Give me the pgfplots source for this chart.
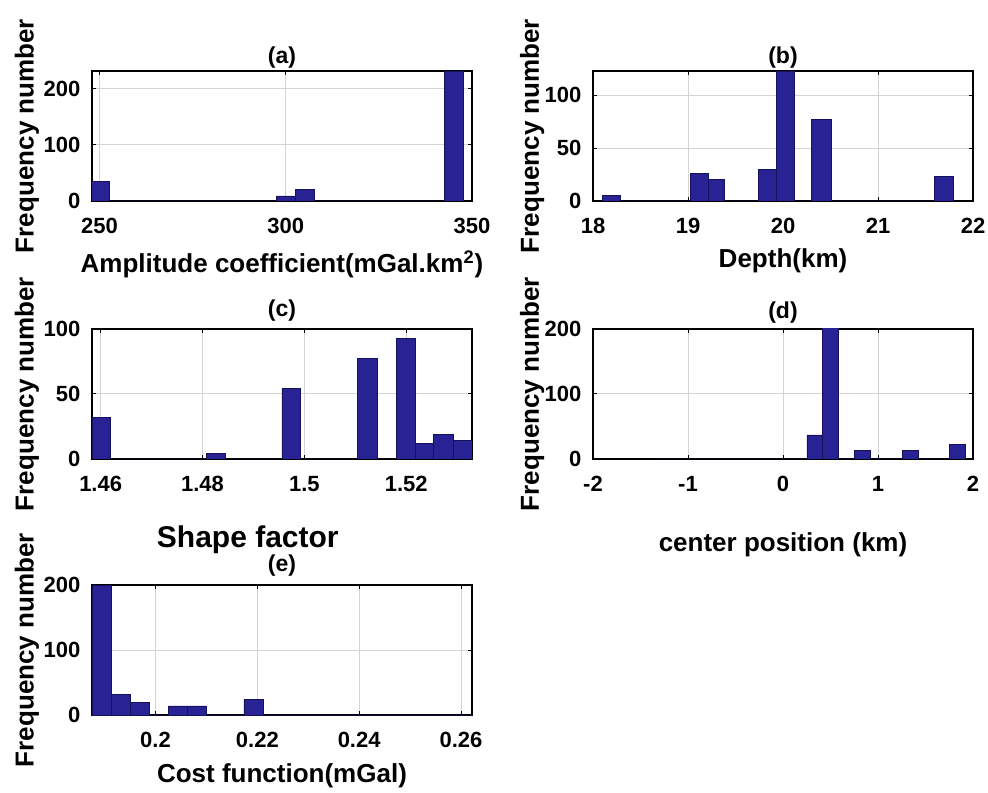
\documentclass[border=0pt]{standalone}
\usepackage{fontspec}
\setmainfont{Liberation Sans}
\usepackage{pgfplots}
\pgfplotsset{compat=1.18}

\definecolor{barfill}{RGB}{40,34,148}
\definecolor{baredge}{RGB}{20,18,90}
\definecolor{gridgray}{RGB}{212,212,212}

% common look of the five histogram panels (1px of the reference = 0.5pt)
\pgfplotsset{
  histax/.style={
    scale only axis,
    width=190pt, height=65pt,
    ymin=0,
    axis line style={black, line width=0.8pt},
    grid=major,
    major grid style={gridgray, line width=0.5pt},
    tick style={black, line width=0.5pt},
    major tick length=2pt,
    /pgf/number format/assume math mode=true,
    ticklabel style={font=\bfseries\fontsize{11}{12}\selectfont},
    xticklabel style={yshift=-5pt},
    yticklabel style={xshift=-2.3pt},
    label style={font=\bfseries\fontsize{13}{15}\selectfont},
    ylabel={Frequency number},
  },
  histbar/.style={ybar interval, fill=barfill, draw=baredge, line width=0.4pt},
}
\tikzset{paneltitle/.style={font=\bfseries\fontsize{11.5}{13}\selectfont, anchor=center, inner sep=0pt}}

\begin{document}
\begin{tikzpicture}
\useasboundingbox (0,0) rectangle (494pt,396pt);

% (a)
\begin{axis}[histax, name=pa, at={(46pt,295.5pt)}, anchor=south west,
  xmin=248, xmax=350, ymax=231,
  xtick={250,300,350}, ytick={0,100,200},
  xlabel={Amplitude coefficient(mGal.km\textsuperscript{2})},
  xlabel style={at={(axis description cs:0.5,-0.49)}, anchor=center},
  ylabel style={at={(axis description cs:-0.171,0.5)}, anchor=center}]
\addplot[histbar] coordinates {(247.6,34) (252.6,0) (297.6,9) (302.6,20) (307.6,0) (342.6,231) (347.6,0)};
\end{axis}
\node[paneltitle] at ([yshift=6.5pt]pa.north) {(a)};

% (b)
\begin{axis}[histax, name=pb, at={(296.5pt,295.5pt)}, anchor=south west,
  xmin=18, xmax=22, ymax=123,
  xtick={18,19,20,21,22}, ytick={0,50,100},
  xlabel={Depth(km)},
  xlabel style={at={(axis description cs:0.5,-0.46)}, anchor=center},
  ylabel style={at={(axis description cs:-0.16,0.5)}, anchor=center}]
\addplot[histbar] coordinates {(18.095,5) (18.293,0) (19.023,26) (19.217,20) (19.386,0)
  (19.746,30) (19.933,123) (20.124,0) (20.30,77) (20.505,0) (21.59,23) (21.79,0)};
\end{axis}
\node[paneltitle] at ([yshift=6.5pt]pb.north) {(b)};

% (c)
\begin{axis}[histax, name=pc, at={(46pt,166.5pt)}, anchor=south west,
  xmin=1.4583, xmax=1.5329, ymax=100,
  xtick={1.46,1.48,1.5,1.52}, ytick={0,50,100},
  xlabel={Shape factor},
  xlabel style={at={(axis description cs:0.41,-0.62)}, anchor=center,
    font=\bfseries\fontsize{15}{17}\selectfont},
  ylabel style={at={(axis description cs:-0.171,0.5)}, anchor=center}]
\addplot[histbar] coordinates {(1.4583,32) (1.4620,0) (1.4807,4) (1.4844,0) (1.4956,54) (1.4993,0)
  (1.5105,77) (1.5143,0) (1.5180,93) (1.5217,12) (1.5254,19) (1.5292,14) (1.5329,0)};
\end{axis}
\node[paneltitle] at ([yshift=9pt]pc.north) {(c)};

% (d)
\begin{axis}[histax, name=pd, at={(296.5pt,166.5pt)}, anchor=south west,
  xmin=-2, xmax=2, ymax=200,
  xtick={-2,-1,0,1,2}, ytick={0,100,200},
  xlabel={center position (km)},
  xlabel style={at={(axis description cs:0.5,-0.66)}, anchor=center},
  ylabel style={at={(axis description cs:-0.16,0.5)}, anchor=center}]
\addplot[histbar] coordinates {(-1.418,0) (0.252,37) (0.419,215) (0.586,0) (0.753,13) (0.920,0)
  (1.254,13) (1.421,0) (1.755,22) (1.922,0)};
\end{axis}
\node[paneltitle] at ([yshift=8pt]pd.north) {(d)};

% (e)
\begin{axis}[histax, name=pe, at={(46pt,38.5pt)}, anchor=south west,
  xmin=0.18753, xmax=0.26216, ymax=200,
  xtick={0.2,0.22,0.24,0.26}, ytick={0,100,200},
  xlabel={Cost function(mGal)},
  xlabel style={at={(axis description cs:0.5,-0.47)}, anchor=center},
  ylabel style={at={(axis description cs:-0.171,0.5)}, anchor=center}]
\addplot[histbar] coordinates {(0.18753,200) (0.19126,32) (0.19499,20) (0.19872,0) (0.20246,14)
  (0.20619,14) (0.20992,0) (0.21738,24) (0.22111,0) (0.26216,0)};
\end{axis}
\node[paneltitle] at ([yshift=9.5pt]pe.north) {(e)};
\end{tikzpicture}
\end{document}
